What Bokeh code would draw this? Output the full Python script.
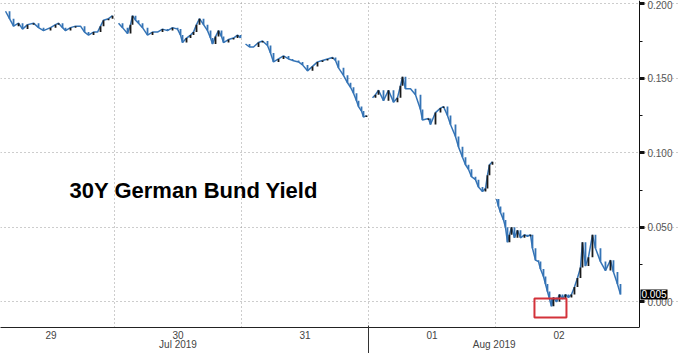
from bokeh.plotting import figure
from bokeh.models import (Range1d, LinearAxis, FixedTicker, NumeralTickFormatter,
                          Label, BoxAnnotation)
from bokeh.embed import file_html
from bokeh.resources import INLINE

# ---- data: time in days since 29 Jul 2019 00:00, 30Y Bund yield (%) ----
t_jul29 = [0.1417, 0.1732, 0.2047, 0.2441, 0.2756, 0.3150, 0.3622, 0.4016, 0.4409, 0.4961,
           0.5354, 0.5591, 0.5906, 0.6142, 0.6535, 0.6929, 0.7323, 0.7638, 0.7953, 0.8346,
           0.8661, 0.8898, 0.9134, 0.9528, 0.9843]
y_jul29 = [0.195, 0.190, 0.185, 0.187, 0.183, 0.186, 0.187, 0.184, 0.182, 0.184,
           0.186, 0.187, 0.184, 0.182, 0.184, 0.185, 0.185, 0.181, 0.179, 0.181,
           0.181, 0.185, 0.189, 0.190, 0.192]

t_jul30 = [1.0315, 1.0630, 1.1024, 1.1260, 1.1417, 1.1654, 1.1890, 1.2205, 1.2598, 1.2992,
           1.3386, 1.3780, 1.4173, 1.4567, 1.4961, 1.5197, 1.5354, 1.5669, 1.5984, 1.6220,
           1.6457, 1.6693, 1.7008, 1.7323, 1.7559, 1.7717, 1.7953, 1.8189, 1.8425, 1.8583,
           1.8976, 1.9370, 1.9685, 1.9921]
y_jul30 = [0.187, 0.184, 0.180, 0.186, 0.192, 0.189, 0.187, 0.184, 0.179, 0.181,
           0.181, 0.183, 0.182, 0.184, 0.183, 0.179, 0.174, 0.177, 0.179, 0.181,
           0.186, 0.190, 0.186, 0.182, 0.177, 0.173, 0.178, 0.182, 0.178, 0.174,
           0.176, 0.177, 0.179, 0.177]

t_jul31 = [2.0315, 2.0630, 2.0945, 2.1339, 2.1654, 2.2047, 2.2283, 2.2520, 2.2913, 2.3307,
           2.3701, 2.4016, 2.4488, 2.4803, 2.5197, 2.5591, 2.5984, 2.6378, 2.6772, 2.7165,
           2.7402, 2.7638, 2.8031, 2.8346, 2.8583, 2.8819, 2.9055, 2.9213, 2.9449, 2.9606,
           2.9843]
y_jul31 = [0.173, 0.171, 0.171, 0.174, 0.175, 0.172, 0.167, 0.161, 0.163, 0.165,
           0.163, 0.162, 0.161, 0.159, 0.155, 0.158, 0.161, 0.162, 0.163, 0.164,
           0.162, 0.157, 0.152, 0.147, 0.144, 0.140, 0.135, 0.131, 0.128, 0.124,
           0.125]

t_aug01 = [3.0315, 3.0551, 3.0787, 3.1181, 3.1575, 3.1969, 3.2283, 3.2520, 3.2677, 3.2913,
           3.3307, 3.3701, 3.4094, 3.4252, 3.4724, 3.4882, 3.5276, 3.5669, 3.5906, 3.6220,
           3.6457, 3.6850, 3.7087, 3.7402, 3.7638, 3.7874, 3.8110, 3.8425, 3.8661, 3.8976,
           3.9213, 3.9370, 3.9528, 3.9764]
y_aug01 = [0.137, 0.139, 0.142, 0.135, 0.142, 0.134, 0.137, 0.145, 0.151, 0.143,
           0.143, 0.139, 0.129, 0.122, 0.123, 0.119, 0.127, 0.130, 0.131, 0.125,
           0.119, 0.111, 0.104, 0.097, 0.092, 0.089, 0.084, 0.082, 0.077, 0.074,
           0.076, 0.085, 0.092, 0.094]

t_aug02 = [4.0080, 4.0236, 4.0394, 4.0630, 4.0787, 4.0945, 4.1102, 4.1260, 4.1496, 4.1732,
           4.1969, 4.2283, 4.2520, 4.2756, 4.2913, 4.3150, 4.3386, 4.3543, 4.3780, 4.3937,
           4.4094, 4.4252, 4.4409, 4.4567, 4.4803, 4.5039, 4.5276, 4.5512, 4.5748, 4.5984,
           4.6220, 4.6457, 4.6693, 4.6850, 4.7087, 4.7323, 4.7638, 4.7874, 4.8268, 4.8661,
           4.9055, 4.9291, 4.9606, 4.9843]
y_aug02 = [0.069, 0.064, 0.060, 0.055, 0.050, 0.040, 0.045, 0.050, 0.043, 0.048,
           0.043, 0.045, 0.044, 0.045, 0.036, 0.028, 0.027, 0.022, 0.017, 0.012,
           0.007, 0.002, -0.003, 0.003, 0.000, 0.005, 0.002, 0.005, 0.003, 0.005,
           0.010, 0.016, 0.023, 0.040, 0.024, 0.030, 0.045, 0.036, 0.027, 0.021,
           0.028, 0.020, 0.012, 0.005]

sessions = [(t_jul29, y_jul29), (t_jul30, y_jul30), (t_jul31, y_jul31),
            (t_aug01, y_aug01), (t_aug02, y_aug02)]

day_centers = [0.5, 1.5, 2.5, 3.5, 4.5]
day_labels = ["29", "30", "31", "01", "02"]
day_breaks = [1, 2, 3, 4]
month_centers = [1.5, 3.99]
month_labels = ["Jul 2019", "Aug 2019"]
month_break = [3.0]
y_ticks = [0.0, 0.05, 0.10, 0.15, 0.20]
y_minor_ticks = [0.025, 0.075, 0.125, 0.175]
last_value = 0.005
chart_title = "30Y German Bund Yield"
# highlighted low (days, yield)
hl_left, hl_right, hl_bottom, hl_top = 4.307, 4.559, -0.0105, 0.0022

FONT = "Liberation Sans"
BLUE = "#3574b6"
DARK = "#1a1a1a"
X_START = 0.102
X_AXIS = 5.134      # where the value axis sits
X_END = 5.457       # canvas right edge

p = figure(width=680, height=353,
           x_range=Range1d(X_START, X_END), y_range=Range1d(-0.0172, 0.2022),
           output_backend="svg", toolbar_location=None,
           y_axis_location="right",
           min_border_left=0, min_border_top=0,
           min_border_right=0, min_border_bottom=26,
           outline_line_color=None, background_fill_color="white")

# gridlines
p.ygrid.grid_line_color = "#9a9a9a"
p.ygrid.grid_line_dash = "1 3"
p.ygrid.bounds = (X_START, X_AXIS)
p.xgrid.ticker = FixedTicker(ticks=day_breaks)
p.xgrid.grid_line_color = "#9a9a9a"
p.xgrid.grid_line_dash = "1 3"

# series: line of closes + open->close bars
for ts, ys in sessions:
    p.line(ts, ys, line_color=BLUE, line_width=1.5)
    ux, uy0, uy1, dx, dy0, dy1 = [], [], [], [], [], []
    for i in range(1, len(ts)):
        o, c = ys[i - 1], ys[i]
        if c >= o:
            ux.append(ts[i]); uy0.append(o); uy1.append(c)
        else:
            dx.append(ts[i]); dy0.append(o); dy1.append(c)
    p.segment(x0=dx, y0=dy0, x1=dx, y1=dy1, line_color=BLUE, line_width=1.8)
    p.segment(x0=ux, y0=uy0, x1=ux, y1=uy1, line_color=DARK, line_width=1.8)

# highlight box
p.add_layout(BoxAnnotation(left=hl_left, right=hl_right, bottom=hl_bottom, top=hl_top,
                           fill_alpha=0, line_color="#d3323a", line_alpha=1.0,
                           line_width=2))

# title text
p.add_layout(Label(x=0.646, y=0.0747, text=chart_title, text_font=FONT,
                   text_font_style="bold", text_font_size="22px",
                   text_baseline="middle", text_color="black"))

# right value axis, pinned at X_AXIS
ya = p.yaxis[0]
ya.fixed_location = X_AXIS
ya.ticker = FixedTicker(ticks=y_ticks, minor_ticks=y_minor_ticks)
ya.formatter = NumeralTickFormatter(format="0.000")
ya.axis_line_color = "#111111"
ya.major_tick_in = 0
ya.major_tick_out = 5
ya.major_tick_line_width = 3
ya.major_tick_line_color = "#111111"
ya.minor_tick_in = 0
ya.minor_tick_out = 3
ya.minor_tick_line_color = "#111111"
ya.major_label_standoff = 3
ya.major_label_text_font = FONT
ya.major_label_text_font_size = "10px"
ya.major_label_text_color = "#555555"

# bottom axis: days
xa = p.xaxis[0]
xa.bounds = (X_START, X_AXIS)
xa.ticker = FixedTicker(ticks=day_centers, minor_ticks=[])
xa.major_label_overrides = {c: l for c, l in zip(day_centers, day_labels)}
xa.axis_line_color = "#222222"
xa.major_tick_line_color = None
xa.minor_tick_line_color = None
xa.major_tick_out = 0
xa.major_tick_in = 0
xa.major_label_standoff = 3
xa.major_label_text_font = FONT
xa.major_label_text_font_size = "10px"
xa.major_label_text_color = "#444444"

# bottom axis: months (minor tick = month separator)
ma = LinearAxis(ticker=FixedTicker(ticks=month_centers, minor_ticks=month_break))
ma.major_label_overrides = {c: l for c, l in zip(month_centers, month_labels)}
ma.axis_line_color = None
ma.major_tick_line_color = None
ma.major_tick_out = 0
ma.major_tick_in = 0
ma.minor_tick_line_color = "#333333"
ma.minor_tick_in = 16
ma.minor_tick_out = 14
ma.major_label_standoff = -17
ma.major_label_text_font = FONT
ma.major_label_text_font_size = "10px"
ma.major_label_text_color = "#444444"
p.add_layout(ma, "below")

# last value tag
p.add_layout(Label(x=X_AXIS, y=last_value, x_offset=1, text=f"{last_value:.3f}",
                   text_font=FONT, text_font_size="10px", text_color="white",
                   text_baseline="middle", text_align="left", level="overlay",
                   background_fill_color="black", background_fill_alpha=1.0,
                   padding=1))

open("out.html", "w").write(file_html(p, INLINE))
